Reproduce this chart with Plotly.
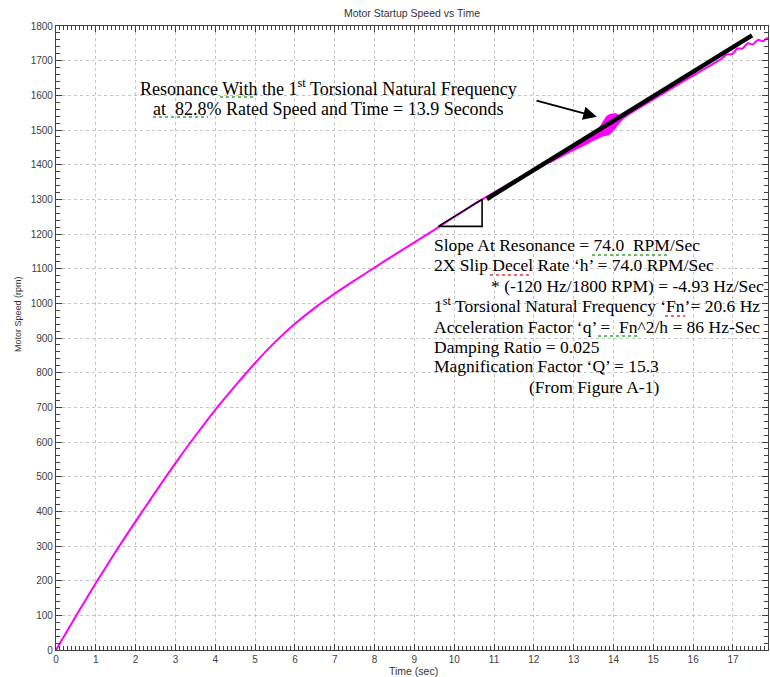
import plotly.graph_objects as go

# Motor speed during startup (time in s, speed in rpm)
speed_t = [0, 0.5, 1.0, 1.5, 2.0, 2.5, 3.0, 3.5, 4.0, 4.5, 5.0, 5.5, 6.0,
           6.5, 7.0, 7.5, 8.0, 8.5, 9.0, 9.5, 10.0, 10.5, 10.7, 11.4, 12.15,
           13.0, 13.5, 14.0, 14.5, 15.0, 15.5, 16.0, 16.5, 16.72, 16.85, 16.98,
           17.11, 17.24, 17.37, 17.5, 17.63, 17.76, 17.85, 17.88]
speed_rpm = [0, 98, 193, 284, 371, 456, 539, 618, 693, 762, 828, 888, 941,
             987, 1028, 1066, 1103, 1140, 1176, 1212, 1249, 1286, 1300, 1346, 1393,
             1451, 1484, 1519, 1554, 1588, 1623, 1657, 1691, 1706, 1718, 1719,
             1735, 1735, 1750, 1747, 1760, 1756, 1765, 1763]

# Envelope of the torsional resonance oscillation
band_t = [12.4, 12.7, 13.0, 13.2, 13.4, 13.55, 13.65, 13.75, 13.85, 13.95,
          14.05, 14.15, 14.25, 14.35]
band_upper = [1412, 1432, 1453, 1467, 1482, 1494, 1506, 1524, 1540, 1545,
              1546, 1541, 1542, 1547]
band_lower = [1406, 1424, 1442, 1453, 1465, 1474, 1479, 1484, 1486, 1494,
              1508, 1522, 1534, 1543]

# Tangent at resonance and slope triangle
slope_t = [10.82, 17.48]
slope_rpm = [1301, 1773]
tri_t = [9.6, 10.7, 10.7, 9.6]
tri_rpm = [1222, 1222, 1300, 1222]

# Arrow from the resonance label to the resonance region
arrow_tail = (12.03, 1586)
arrow_tip = (13.58, 1538)

x_range = [0, 17.88]
y_range = [0, 1800]

MAGENTA = "#ff00ff"
AXIS = "#404040"
GRID = "#c4c4c4"
SERIF = "Liberation Serif, Times New Roman, serif"
SANS = "Liberation Sans, Arial, sans-serif"

# Figure geometry (pixels) used to place the text blocks
W, H = 770, 677
ML, MR, MT, MB = 56, 2, 26, 27
PW, PH = W - ML - MR, H - MT - MB


def px_x(p):
    return (p - ML) / PW


def px_y(p):
    return (H - MB - p) / PH


fig = go.Figure()

fig.add_trace(go.Scatter(x=speed_t, y=speed_rpm, mode="lines",
                         line=dict(color=MAGENTA, width=2, shape="spline", smoothing=0.8),
                         hoverinfo="skip", showlegend=False))

fig.add_trace(go.Scatter(x=band_t + band_t[::-1], y=band_upper + band_lower[::-1],
                         mode="lines", fill="toself", fillcolor=MAGENTA,
                         line=dict(color=MAGENTA, width=1.5, shape="spline"),
                         hoverinfo="skip", showlegend=False))

fig.add_trace(go.Scatter(x=slope_t, y=slope_rpm, mode="lines",
                         line=dict(color="black", width=4.5),
                         hoverinfo="skip", showlegend=False))

fig.add_trace(go.Scatter(x=tri_t, y=tri_rpm, mode="lines",
                         line=dict(color="black", width=1.6),
                         hoverinfo="skip", showlegend=False))

nb = "\u00a0"

# Resonance label: (text, centre x px, centre y px)
res_lines = [
    ("Resonance With the 1<sup>st</sup> Torsional Natural Frequency", 328, 88),
    (f"at {nb}82.8% Rated Speed and Time = 13.9 Seconds", 328, 109),
]

# Calculation notes: (text, left x px, centre y px)
info_lines = [
    (f"Slope At Resonance = 74.0 {nb}RPM/Sec", 432, 245),
    ("2X Slip Decel Rate \u2018h\u2019 = 74.0 RPM/Sec", 432, 265),
    ("* (-120 Hz/1800 RPM) = -4.93 Hz/Sec", 489, 285.5),
    ("1<sup>st</sup> Torsional Natural Frequency \u2018Fn\u2019= 20.6 Hz", 432, 305),
    (f"Acceleration Factor \u2018q\u2019 = {nb}Fn^2/h = 86 Hz-Sec", 432, 326.5),
    ("Damping Ratio = 0.025", 432, 346.5),
    ("Magnification Factor \u2018Q\u2019 = 15.3", 432, 366.5),
    ("(From Figure A-1)", 527, 386.5),
]

annotations = []
for txt, cx, cy in res_lines:
    annotations.append(dict(x=px_x(cx), y=px_y(cy), xref="paper", yref="paper",
                            text=txt, showarrow=False, xanchor="center",
                            yanchor="middle",
                            font=dict(family=SERIF, size=18, color="black")))
for txt, lx, cy in info_lines:
    annotations.append(dict(x=px_x(lx), y=px_y(cy), xref="paper", yref="paper",
                            text=txt, showarrow=False, xanchor="left",
                            yanchor="middle", align="left",
                            font=dict(family=SERIF, size=17.5, color="black")))

annotations.append(dict(x=arrow_tip[0], y=arrow_tip[1], ax=arrow_tail[0],
                        ay=arrow_tail[1], xref="x", yref="y", axref="x",
                        ayref="y", text="", showarrow=True, arrowhead=2,
                        arrowsize=1.5, arrowwidth=1.8, arrowcolor="black"))

annotations.append(dict(x=px_x(18), y=px_y(314), xref="paper", yref="paper",
                        text="Motor Speed (rpm)", textangle=-90, showarrow=False,
                        xanchor="center", yanchor="middle",
                        font=dict(family=SANS, size=9, color="#333333")))
annotations.append(dict(x=px_x(414), y=px_y(671), xref="paper", yref="paper",
                        text="Time (sec)", showarrow=False, xanchor="center",
                        yanchor="middle",
                        font=dict(family=SANS, size=10.5, color="#333333")))

# White panels behind the two text blocks
shapes = [
    dict(type="rect", xref="paper", yref="paper", x0=px_x(133), x1=px_x(526),
         y0=px_y(76), y1=px_y(120), fillcolor="white", line=dict(width=0),
         layer="between"),
    dict(type="rect", xref="paper", yref="paper", x0=px_x(428), x1=px_x(766),
         y0=px_y(233), y1=px_y(398), fillcolor="white", line=dict(width=0),
         layer="between"),
]

# Proofing underlines under some words: (x0, x1, y, colour) in px
squiggles = [
    (220, 255, 97, "#3ea33e"),
    (153, 208, 117, "#3ea33e"),
    (592, 668, 255, "#3ea33e"),
    (490, 530, 275, "#e03a3a"),
    (665, 685, 316, "#e03a3a"),
    (598, 637, 336, "#3ea33e"),
]
for x0, x1, yy, col in squiggles:
    shapes.append(dict(type="line", xref="paper", yref="paper", x0=px_x(x0),
                       x1=px_x(x1), y0=px_y(yy), y1=px_y(yy),
                       line=dict(color=col, width=1.3, dash="dot"), layer="above"))

fig.update_layout(
    width=W, height=H,
    margin=dict(l=ML, r=MR, t=MT, b=MB),
    paper_bgcolor="white", plot_bgcolor="white",
    title=dict(text="Motor Startup Speed vs Time", x=412 / W,
               xanchor="center", y=1 - 13 / H, yanchor="middle", yref="container",
               xref="container",
               font=dict(family=SANS, size=10.5, color="#333333")),
    annotations=annotations,
    shapes=shapes,
    font=dict(family=SANS),
)

axis_common = dict(
    showgrid=True, gridcolor=GRID, griddash="dot", gridwidth=1,
    zeroline=False, showline=True, linecolor=AXIS, linewidth=1.2,
    mirror="ticks", ticks="inside", ticklen=6, tickcolor=AXIS, tickwidth=1,
    tickfont=dict(family=SANS, size=10, color=AXIS),
)

fig.update_xaxes(range=x_range, tick0=0, dtick=1, **axis_common,
                 minor=dict(dtick=0.1, ticks="inside", ticklen=4, tickcolor=AXIS,
                            tickwidth=1, showgrid=False))
fig.update_yaxes(range=y_range, tick0=0, dtick=100, **axis_common,
                 minor=dict(dtick=20, ticks="inside", ticklen=4, tickcolor=AXIS,
                            tickwidth=1, showgrid=False))

fig.write_html("out.html")
